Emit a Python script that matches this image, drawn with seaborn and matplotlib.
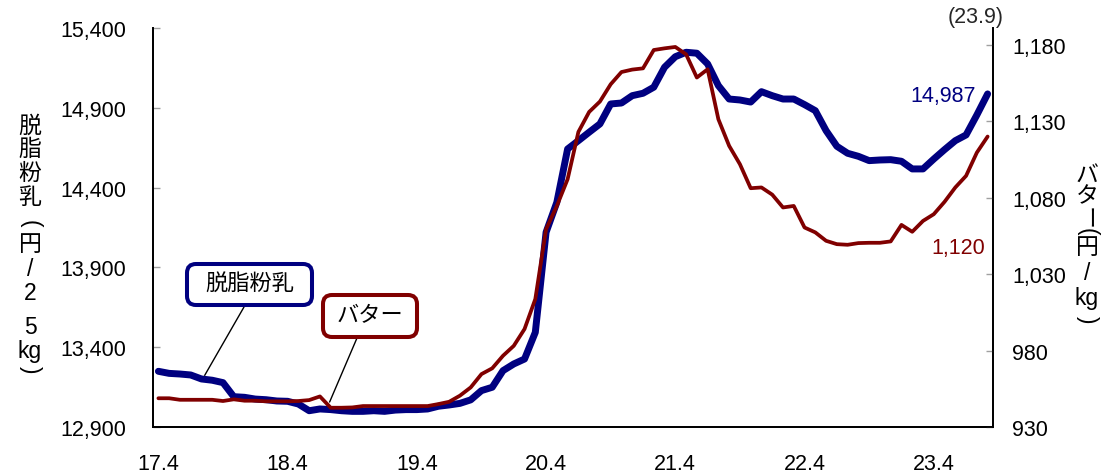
import numpy as np
import pandas as pd
import matplotlib
matplotlib.use("Agg")
import matplotlib.pyplot as plt
import seaborn as sns
from matplotlib.patches import FancyBboxPatch
from matplotlib.transforms import IdentityTransform

# ---------------- data ----------------
months = [f"{(2017 + (3 + k) // 12) % 100}.{(3 + k) % 12 + 1}" for k in range(78)]  # 17.4 ... 23.9
tick_labels = ["17.4", "18.4", "19.4", "20.4", "21.4", "22.4", "23.4"]

skim_milk = [13249, 13236, 13232, 13226, 13201, 13193, 13178, 13090, 13086, 13075,
             13071, 13063, 13061, 13044, 13002, 13013, 13009, 13002, 12998, 12998,
             13002, 12998, 13006, 13009, 13009, 13013, 13030, 13038, 13048, 13070,
             13128, 13149, 13253, 13295, 13326, 13493, 14120, 14308, 14642, 14694,
             14747, 14799, 14924, 14930, 14976, 14991, 15029, 15154, 15220, 15248,
             15242, 15175, 15039, 14955, 14949, 14936, 15001, 14976, 14955, 14955,
             14920, 14882, 14757, 14659, 14615, 14596, 14569, 14573, 14575, 14565,
             14517, 14517, 14579, 14638, 14694, 14730, 14855, 14987]

butter = [948.8, 948.8, 947.8, 947.8, 947.8, 947.8, 947.0, 948.1, 947.2, 947.2,
          946.8, 946.8, 946.8, 947.0, 947.6, 950.0, 942.6, 942.6, 942.8, 943.7,
          943.7, 943.7, 943.7, 943.7, 943.7, 943.7, 945.0, 946.5, 950.5, 955.9,
          964.6, 968.4, 976.6, 983.1, 994.1, 1013.7, 1059.4, 1074.6, 1092.1, 1123.0,
          1136.1, 1142.9, 1154.2, 1162.2, 1163.8, 1164.6, 1176.6, 1177.7, 1178.6, 1173.8,
          1158.6, 1164.0, 1131.3, 1113.9, 1101.9, 1086.2, 1086.7, 1082.0, 1073.6, 1074.6,
          1060.5, 1057.3, 1051.8, 1049.6, 1049.2, 1050.3, 1050.5, 1050.5, 1051.4, 1062.2,
          1057.7, 1064.8, 1069.2, 1077.3, 1086.7, 1094.3, 1109.5, 1120.0]

skim_name = "脱脂粉乳"
butter_name = "バター"
latest_label = "(23.9)"
left_title = ["脱", "脂", "粉", "乳", "(", "円", "/", "2", "5", "kg", ")"]
right_title = ["バ", "タ", "ー", "(", "円", "/", "kg", ")"]

df = pd.DataFrame({"month": months, "skim": skim_milk, "butter": butter})
df["pos"] = np.arange(len(df))

# ---------------- style ----------------
sns.set_style("white")
plt.rcParams["font.family"] = ["Liberation Sans", "Noto Sans CJK JP"]

NAVY = "#000080"
DRED = "#800000"
W, H = 1120, 477

fig = plt.figure(figsize=(W / 100, H / 100), dpi=100)
ax = fig.add_axes([153 / W, 49 / H, 840 / W, 399 / H])
ax2 = ax.twinx()

sns.lineplot(data=df, x="pos", y="skim", ax=ax, color=NAVY, linewidth=5.0,
             solid_joinstyle="round", solid_capstyle="round")
sns.lineplot(data=df, x="pos", y="butter", ax=ax2, color=DRED, linewidth=2.7,
             solid_joinstyle="round", solid_capstyle="round")

ax.set_xlim(-0.5, len(df) - 0.5)
ax.set_ylim(12900, 15400)
ax2.set_ylim(930, 1191)

ax.set_xlabel("")
ax.set_ylabel("")
ax2.set_ylabel("")

tick_pos = [months.index(t) for t in tick_labels]
ax.set_xticks(tick_pos)
ax.set_xticklabels(tick_labels)
ax.set_xticks(np.arange(0.5, len(df) - 0.5, 1), minor=True)
ax.tick_params(axis="x", which="major", length=0, pad=19, labelsize=15.5, labelcolor="black")
ax.tick_params(axis="x", which="minor", direction="in", length=5, color="#a0a0a0", width=1)

lticks = np.arange(12900, 15401, 500)
ax.set_yticks(lticks)
ax.set_yticklabels([f"{v:,}" for v in lticks])
ax.tick_params(axis="y", direction="in", length=5, color="#a0a0a0", width=1,
               pad=19, labelsize=15.5, labelcolor="black")

rticks = np.arange(930, 1181, 50)
ax2.set_yticks(rticks)
ax2.set_yticklabels([f"{v:,}" for v in rticks])
ax2.tick_params(axis="y", direction="in", length=5, color="#a0a0a0", width=1,
                pad=14, labelsize=15.5, labelcolor="black")

for a in (ax, ax2):
    for s in a.spines.values():
        s.set_color("black")
        s.set_linewidth(1.3)
    a.spines["top"].set_visible(False)
    a.grid(False)

# value labels at latest month
ax.annotate(f"{skim_milk[-1]:,}", xy=(df["pos"].iloc[-1], skim_milk[-1]),
            xytext=(-12, -2), textcoords="offset pixels", ha="right", va="center",
            color=NAVY, fontsize=15.5)
ax2.annotate(f"{butter[-1]:,.0f}", xy=(df["pos"].iloc[-1], butter[-1]),
             xytext=(-2, -111), textcoords="offset pixels", ha="right", va="center",
             color=DRED, fontsize=15.5)

# leader lines from callout boxes
xs = 4.3
ax.annotate("", xy=(xs, np.interp(xs, df["pos"], df["skim"]) + 25),
            xytext=(244, H - 308), textcoords="figure pixels",
            arrowprops=dict(arrowstyle="-", color="black", lw=1.0, shrinkA=0, shrinkB=0))
xb = 15.9
ax2.annotate("", xy=(xb, np.interp(xb, df["pos"], df["butter"]) + 3),
             xytext=(357, H - 339), textcoords="figure pixels",
             arrowprops=dict(arrowstyle="-", color="black", lw=1.0, shrinkA=0, shrinkB=0))

# callout boxes (pixel coordinates)
def callout(x0, y0_top, w, h, color, text):
    p = FancyBboxPatch((x0, H - y0_top - h), w, h,
                       boxstyle="round,pad=0,rounding_size=9",
                       transform=IdentityTransform(), facecolor="white",
                       edgecolor=color, linewidth=2.9, zorder=5)
    fig.add_artist(p)
    fig.text((x0 + w / 2) / W, (H - y0_top - h / 2) / H, text, ha="center", va="center",
             fontsize=16, color="black", zorder=6)

callout(187, 265, 125, 41, NAVY, skim_name)
callout(323, 296, 94, 42, DRED, butter_name)

# vertical axis titles (stacked characters, brackets / long vowel rotated)
def vertical_title(chars, xc, ycs):
    for ch, yc in zip(chars, ycs):
        rot = -90 if ch in ("(", ")", "ー") else 0
        fig.text(xc / W, (H - yc) / H, ch, ha="center", va="center",
                 rotation=rot, fontsize=16.5, color="black")

vertical_title(left_title, 30, [126, 149, 173, 198, 224, 245, 270, 294, 328, 352, 370])
vertical_title(right_title, 1087, [175, 197, 218, 232, 248, 274, 298, 320])

fig.text(976 / W, (H - 18) / H, latest_label, ha="center", va="center", fontsize=15.5)

fig.savefig("out.png", dpi=100)
